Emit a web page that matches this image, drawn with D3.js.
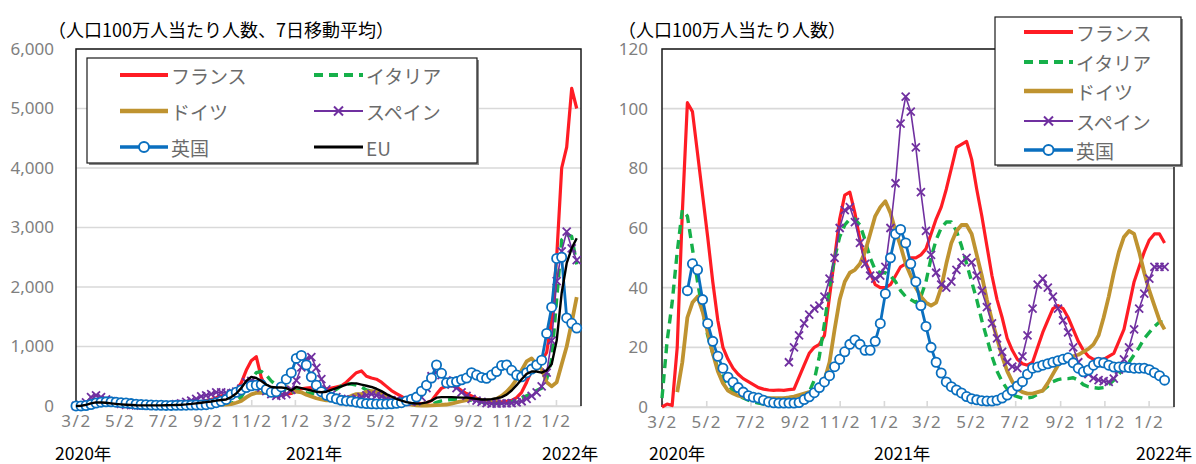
<!DOCTYPE html>
<html><head><meta charset="utf-8">
<script src="https://cdn.jsdelivr.net/npm/d3@7"></script>
<style>
body{margin:0;background:#fff;}
svg{display:block;font-family:"Noto Sans CJK JP","Noto Sans",sans-serif;}
</style></head><body>
<svg id="c" width="1196" height="464"></svg>
<script>
// ---------- categories ----------
const startDate = "2020-03-02";
const endDate = "2022-02-06";
const tickDates = ["2020-03-02","2020-05-02","2020-07-02","2020-09-02","2020-11-02","2021-01-02",
                   "2021-03-02","2021-05-02","2021-07-02","2021-09-02","2021-11-02","2022-01-02"];
const tickLabels = ["3/2","5/2","7/2","9/2","11/2","1/2","3/2","5/2","7/2","9/2","11/2","1/2"];
const yearLabels = ["2020年","2021年","2022年"];
const leftYTicks = [0,1000,2000,3000,4000,5000,6000];
const rightYTicks = [0,20,40,60,80,100,120];
const seriesNames = ["フランス","イタリア","ドイツ","スペイン","英国","EU"];
const leftTitle = "（人口100万人当たり人数、7日移動平均）";
const rightTitle = "（人口100万人当たり人数）";

// ---------- left panel: weekly values from 2020-03-02 ----------
const casesFrance = [2,8,25,45,65,70,60,40,25,15, 10,8,7,6,7,7,8,8,9,10, 13,17,22,35,50,65,90,110,140,170,
  180,200,270,390,600,760,830,480,300,180, 170,190,200,210,250,290,300,310,300,280, 290,300,320,340,400,480,560,590,500,470,
  450,400,330,260,210,160,110,70,50,40, 50,90,200,300,330,340,320,260,210,170, 130,100,80,70,65,70,80,95,140,230,
  400,600,720,760,900,1450,2500,4000,4350,5340, 5000];
const casesItaly = [10,25,50,85,80,70,65,50,35,25, 17,12,9,6,5,4,4,3.5,3.5,3.5, 4,5,6,8,12,18,23,25,25,26,
  30,45,80,150,300,450,560,580,520,420, 350,290,250,220,270,260,220,210,200,210, 200,230,280,340,370,370,350,320,270,250,
  230,190,160,120,80,55,40,30,15,12, 15,30,60,85,100,110,115,110,105,95, 80,65,60,50,45,45,55,70,90,140,
  170,220,260,300,450,780,1800,2790,2880,2850, 2380];
const casesGermany = [2,8,35,65,70,60,45,25,18,13, 10,8,6,5,4,5,7,6,5,5, 6,8,10,12,15,16,15,16,20,22,
  25,33,55,85,145,195,220,220,220,220, 240,300,320,270,240,230,190,160,130,110, 95,95,100,105,130,170,200,200,240,250,
  240,210,170,130,90,60,40,25,10,7, 7,9,13,18,25,40,60,80,100,120, 110,95,90,100,120,170,240,330,450,600,
  750,800,700,620,400,330,400,700,1000,1400, 1830];
const casesSpain = [2,15,60,150,180,150,110,80,60,35, 20,15,10,8,6,7,8,9,10,15, 30,45,70,90,120,160,180,200,230,230,
  220,210,240,290,400,420,390,310,250,200, 170,180,200,270,430,650,790,820,640,450, 280,190,150,120,100,110,130,150,180,200,
  180,160,120,100,95,80,75,70,80,150, 300,500,570,520,430,360,300,230,170,120, 90,70,50,40,40,45,45,50,60,80,
  120,170,230,330,560,1100,2100,2600,2930,2650, 2450];
const casesUK = [0.5,2,8,25,50,65,70,70,65,55, 50,40,30,25,20,17,14,12,10,10, 11,12,13,15,16,18,22,35,55,80,
  110,190,230,270,310,340,350,360,280,230, 240,320,450,560,800,850,690,490,350,240, 180,145,120,95,85,80,65,50,40,37,
  35,35,35,38,45,55,85,115,150,250, 350,470,690,550,390,400,410,440,470,560, 520,480,465,520,580,680,690,600,520,490,
  560,620,690,770,1220,1660,2480,2500,1480,1390, 1310];
const casesEU = [1,5,20,45,60,60,55,45,35,28, 22,17,13,11,10,10,10,11,12,14, 17,21,27,35,45,55,65,75,90,100,
  110,150,210,300,420,490,470,420,360,320, 310,310,300,260,320,300,280,260,240,230, 240,270,300,330,360,380,380,360,340,320,
  290,250,200,160,120,90,65,50,40,45, 60,90,140,150,150,150,145,140,140,130, 120,110,110,115,130,150,190,260,350,450,
  540,580,580,560,600,700,1100,1900,2400,2650, 2820];

// ---------- right panel: weekly values from 2020-03-02 ----------
const perFrance = [0,1,0.5,20,65,102,99,85,71,57, 42,29,20,16,13,11,9.5,8.5,7.5,6.5, 6,5.7,5.6,5.7,5.6,5.8,6,10,14,18,
  20,21,24,37,50,63,71,72,65,56, 49,45,41,40,40,41,44,47,48,50, 50,51,53,58,63,67,73,80,87,88,
  89,83,73,64,54,44,36,30,23,19, 16,14.5,14,15,20,25,29,33,34,33, 30,26,22,19,17,16,16,16,17,18,
  22,26,34,42,47,52,56,58,58,55];
const perItaly = [3,22,35,52,66,64,53,42,32,24, 18,13,10,7.5,5.5,4,3,2.3,1.7,1.3, 1,0.9,0.9,1,1.2,1.5,2,2.5,3.5,5,
  9,17,28,40,50,57,61,63,63,61, 56,50,46,45,45,44,42,39,37,36, 35,37,42,50,56,60,62,62,59,54,
  48,42,36,29,23,17,12,8.5,6,4, 3.5,3,3,3.3,4.3,5.5,7,8.5,9.2,9.5, 9.5,9.8,9,7.5,6.8,6.5,6.3,6.5,7.5,9,
  11,13,15,17.5,20,23,25,27,28.5,28.5];
const perGermany = [null,null,null,5,15,30,35,37,32,25, 18,12,8,5.5,4.5,3.8,3.4,3.2,3,3, 3,3,3,3,3,3.2,3.5,4,4.5,5,
  5,6,9,15,26,36,42,45,46,48, 52,58,64,67,69,65,59,54,48,44, 40,37,35,34,35,40,48,55,59,61,
  61,58,51,44,36,29,23,17,12,8.5, 6,5,4.5,4.5,5,5.5,8,11,14,16, 16.5,17,17.5,18.5,19.5,21,24,30,37,45,
  52,57,59,58,52,45,39,34,29,26];
const perSpain = [null,null,null,null,null,null,null,null,null,null, null,null,null,null,null,null,null,null,null,null,
  null,null,null,null,null,15,20,24,28,31,
  33,34,37,43,50,60,66,67,62,55, 48,44,43,44,47,60,75,95,104,99, 87,72,59,51,45,41,40,42,46,48.5,
  50,48.5,44,39,33.5,28,23,18.5,15,13.5, 13,17,24,33,41,43,40,37,33,29, 25,20,15,12.5,11,9.7,9,8.7,8.4,9.5,
  12.5,16,20,26,33,38,43,47,47,47];
const perUK = [null,null,null,null,null,39,48,46,36,28, 22,17,13,10,8.3,6.5,5,3.8,3.3,3, 2.3,1.7,1.4,1.3,1.3,1.3,1.3,1.5,2.5,3.4,
  4.8,6.5,8.4,10.5,13.5,16,18.5,21,22.5,21, 19,19,22,28,38,50,58,59.5,55,48, 42,34,27,20,15,11.4,8.4,6.8,5.7,4.7,
  3.5,2.8,2.4,2.1,2,2,2.3,3,4,5.5, 7,8.5,11,13,13.4,14,14.5,15,15.5,16, 16.5,14.8,13,11.8,12.4,14,15,14.8,14,13.4,
  13.4,13.4,13.2,13,13,13,12.5,11.5,10.5,9];

// ---------- styles ----------
const styles = [
  {color:"#ff1c24", width:3.2, dash:null, marker:null},
  {color:"#16b04a", width:3.4, dash:"9,6", marker:null},
  {color:"#bf9330", width:3.8, dash:null, marker:null},
  {color:"#7030a0", width:1.6, dash:null, marker:"x"},
  {color:"#0a6fbf", width:2.8, dash:null, marker:"o"},
  {color:"#000000", width:2.4, dash:null, marker:null}
];

const parse = d3.timeParse("%Y-%m-%d");
const t0 = parse(startDate);
const svg = d3.select("#c");

function drawPanel(cfg){
  const g = svg.append("g");
  const x = d3.scaleTime().domain([t0, parse(endDate)]).range([cfg.x0, cfg.x1]);
  const y = d3.scaleLinear().domain([0, cfg.yMax]).range([cfg.yBot, cfg.yTop]);

  // gridlines
  g.append("g").selectAll("line").data(cfg.yTicks).join("line")
    .attr("x1", cfg.x0).attr("x2", cfg.x1)
    .attr("y1", d=>y(d)).attr("y2", d=>y(d))
    .attr("stroke", "#d9d9d9").attr("stroke-width", 1.6);

  // y axis labels
  const ya = g.append("g").attr("transform", `translate(${cfg.x0},0)`)
    .call(d3.axisLeft(y).tickValues(cfg.yTicks).tickFormat(cfg.fmt).tickSize(0).tickPadding(cfg.yPad));
  ya.select(".domain").remove();
  ya.selectAll("text").attr("fill","#7f7f7f").style("font-size","17px")
    .style("font-family",'"Noto Sans","Noto Sans CJK JP",sans-serif');

  // x axis
  const xa = g.append("g").attr("transform", `translate(0,${cfg.yBot})`)
    .call(d3.axisBottom(x).tickValues(tickDates.map(parse))
      .tickFormat((d,i)=>tickLabels[i]).tickSizeInner(-6).tickSizeOuter(0).tickPadding(16));
  xa.select(".domain").attr("stroke","#d9d9d9").attr("stroke-width",1.6);
  xa.selectAll(".tick line").attr("stroke","#d9d9d9").attr("stroke-width",1.6);
  xa.selectAll("text").attr("fill","#7f7f7f").style("font-size","17px")
    .style("letter-spacing","1.5px").attr("dy","0.32em")
    .style("font-family",'"Noto Sans","Noto Sans CJK JP",sans-serif');

  // year labels
  g.append("g").selectAll("text").data(yearLabels).join("text")
    .attr("x",(d,i)=>cfg.yearX[i]).attr("y",452).attr("dominant-baseline","central")
    .attr("fill","#000").style("font-size","17.5px").text(d=>d);

  // title
  g.append("text").attr("x",cfg.titleX).attr("y",29).attr("dominant-baseline","central")
    .attr("fill","#000").style("font-size","18px").text(cfg.title);

  // frame (left, top, right)
  g.append("path")
    .attr("d",`M${cfg.x0},${cfg.yBot}V${cfg.yTop}H${cfg.x1}V${cfg.yBot}`)
    .attr("fill","none").attr("stroke","#1a1a1a").attr("stroke-width",1.5);

  // series
  const dates = d3.range(cfg.n).map(i=>d3.timeDay.offset(t0, 7*i));
  cfg.series.forEach((vals, si)=>{
    const st = styles[si];
    const pts = vals.map((v,i)=>({d:dates[i], v}));
    const line = d3.line().defined(p=>p.v!=null).x(p=>x(p.d)).y(p=>y(p.v));
    g.append("path").datum(pts).attr("d",line).attr("fill","none")
      .attr("stroke",st.color).attr("stroke-width",st.width)
      .attr("stroke-dasharray",st.dash).attr("stroke-linejoin","round");
    const mk = pts.filter(p=>p.v!=null);
    if(st.marker==="x"){
      g.append("g").selectAll("path").data(mk).join("path")
        .attr("transform",p=>`translate(${x(p.d)},${y(p.v)})`)
        .attr("d","M-4,-4L4,4M-4,4L4,-4").attr("stroke",st.color).attr("stroke-width",1.8);
    } else if(st.marker==="o"){
      g.append("g").selectAll("circle").data(mk).join("circle")
        .attr("cx",p=>x(p.d)).attr("cy",p=>y(p.v)).attr("r",4.6)
        .attr("fill","#fff").attr("stroke",st.color).attr("stroke-width",1.8);
    }
  });

  // legend
  const L = cfg.legend;
  const lg = g.append("g");
  lg.append("rect").attr("x",L.x+2).attr("y",L.y+2).attr("width",L.w).attr("height",L.h).attr("fill","#8c8c8c");
  lg.append("rect").attr("x",L.x).attr("y",L.y).attr("width",L.w).attr("height",L.h)
    .attr("fill","#fff").attr("stroke","#1a1a1a").attr("stroke-width",1.2);
  L.items.forEach((it)=>{
    const st = styles[it.s];
    const cx = (it.lx1+it.lx2)/2;
    lg.append("line").attr("x1",it.lx1).attr("x2",it.lx2).attr("y1",it.y).attr("y2",it.y)
      .attr("stroke",st.color).attr("stroke-width",st.width+0.6).attr("stroke-dasharray",st.dash);
    if(st.marker==="x"){
      lg.append("path").attr("transform",`translate(${cx},${it.y})`).attr("d","M-4.5,-4.5L4.5,4.5M-4.5,4.5L4.5,-4.5")
        .attr("stroke",st.color).attr("stroke-width",2);
    } else if(st.marker==="o"){
      lg.append("circle").attr("cx",cx).attr("cy",it.y).attr("r",5).attr("fill","#fff")
        .attr("stroke",st.color).attr("stroke-width",2);
    }
    lg.append("text").attr("x",it.lx2+3).attr("y",it.y).attr("dominant-baseline","central")
      .attr("fill","#6b6b6b").style("font-size","19px").text(seriesNames[it.s]);
  });
}

drawPanel({
  x0:76, x1:581, yTop:49, yBot:406, yMax:6000, yTicks:leftYTicks, fmt:d3.format(","), yPad:22,
  yearX:[55,286,542], titleX:48, title:leftTitle, n:101,
  series:[casesFrance,casesItaly,casesGermany,casesSpain,casesUK,casesEU],
  legend:{x:87,y:58,w:390,h:105, items:[
    {s:0,lx1:120,lx2:168,y:75},{s:1,lx1:314,lx2:363,y:75},
    {s:2,lx1:120,lx2:168,y:111},{s:3,lx1:314,lx2:363,y:111},
    {s:4,lx1:120,lx2:168,y:147},{s:5,lx1:314,lx2:363,y:147}]}
});
drawPanel({
  x0:662, x1:1174, yTop:49, yBot:407, yMax:120, yTicks:rightYTicks, fmt:d3.format("d"), yPad:14,
  yearX:[649,874,1136], titleX:618, title:rightTitle, n:100,
  series:[perFrance,perItaly,perGermany,perSpain,perUK],
  legend:{x:995,y:17,w:186,h:148, items:[
    {s:0,lx1:1024,lx2:1073,y:32},{s:1,lx1:1024,lx2:1073,y:62},{s:2,lx1:1024,lx2:1073,y:91},
    {s:3,lx1:1024,lx2:1073,y:121},{s:4,lx1:1024,lx2:1073,y:150}]}
});
</script>
</body></html>
